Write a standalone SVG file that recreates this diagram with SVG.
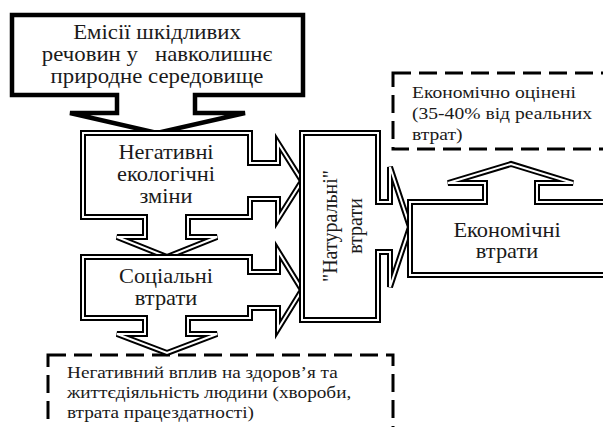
<svg xmlns="http://www.w3.org/2000/svg" xmlns:xlink="http://www.w3.org/1999/xlink" width="603" height="427" viewBox="0 0 603 427">
<style>
.bg{fill:#fff}
.thick{fill:#fff;stroke:#000;stroke-width:4.5;stroke-linejoin:miter}
.triA{fill:#fff;stroke:#000;stroke-width:6;stroke-linejoin:miter}
.triB{fill:none;stroke:#fff;stroke-width:2;stroke-linejoin:miter}
.dash{fill:#fff;stroke:#000;stroke-width:3;stroke-dasharray:18 8}
text{font-family:'Liberation Serif','Times New Roman',serif;fill:#1a1a1a}
.tm{font-size:20px;text-anchor:middle}
.ts{font-size:17.5px}
</style>
<defs>
<path id="pNeg" d="M83,133 H250 V163 H278 V143 L302,181 L278,219 V199 H250 V217 H188 V237 H217 L167,257 L117,237 H145 V217 H83 Z"/>
<path id="pSoc" d="M83,257 H250 V272 H278 V251 L302,290 L278,329 V308 H250 V318 H188 V334 H217 L167,353 L117,334 H145 V318 H83 Z"/>
<path id="pNat" d="M302,133 H378 V202 H390 V167 L410,227 L390,287 V252 H378 V320 H302 Z"/>
<path id="pEco" d="M410,202 H485 V183 H448 L511,164 L573,183 H537 V202 H615 V275 H410 Z"/>
</defs>
<rect class="bg" x="0" y="0" width="603" height="427"/>
<g id="connectors"></g>
<g id="node-economic-estimated">
<rect class="dash" x="393" y="73" width="230" height="76"/>
<g transform="translate(412,0) scale(1.12,1)">
<text class="ts" x="0" y="98">Економічно оцінені</text>
<text class="ts" x="0" y="119">(35-40% від реальних</text>
<text class="ts" x="0" y="140">втрат)</text>
</g>
</g>
<g id="node-health">
<rect class="dash" x="48" y="355" width="345" height="90"/>
<g transform="translate(67,0) scale(1.1,1)">
<text class="ts" x="0" y="378">Негативний вплив на здоров’я та</text>
<text class="ts" x="0" y="398">життєдіяльність людини (хвороби,</text>
<text class="ts" x="0" y="418">втрата працездатності)</text>
</g>
</g>
<g id="node-emissions">
<path class="thick" d="M12,15 H303 V95 H195 V113 H245 L157,133 L70,113 H117 V95 H12 Z"/>
<g transform="translate(157,0) scale(1.14,1)">
<text class="tm" x="0" y="39">Емісії шкідливих</text>
<text class="tm" x="0" y="61">речовин у&#160;&#160; навколишнє</text>
<text class="tm" x="0" y="83">природне середовище</text>
</g>
</g>
<g id="node-ecological">
<use href="#pNeg" xlink:href="#pNeg" class="triA"/>
<use href="#pNeg" xlink:href="#pNeg" class="triB"/>
<g transform="translate(166,0) scale(1.12,1)">
<text class="tm" x="0" y="159">Негативні</text>
<text class="tm" x="0" y="181">екологічні</text>
<text class="tm" x="0" y="203">зміни</text>
</g>
</g>
<g id="node-social">
<use href="#pSoc" xlink:href="#pSoc" class="triA"/>
<use href="#pSoc" xlink:href="#pSoc" class="triB"/>
<g transform="translate(166,0) scale(1.12,1)">
<text class="tm" x="0" y="283">Соціальні</text>
<text class="tm" x="0" y="305">втрати</text>
</g>
</g>
<g id="node-natural">
<use href="#pNat" xlink:href="#pNat" class="triA"/>
<use href="#pNat" xlink:href="#pNat" class="triB"/>
<g transform="translate(0,226) rotate(-90) scale(1,1.1)">
<text class="tm" x="0" y="306">"Натуральні"</text>
<text class="tm" x="0" y="329">втрати</text>
</g>
</g>
<g id="node-economic">
<use href="#pEco" xlink:href="#pEco" class="triA"/>
<use href="#pEco" xlink:href="#pEco" class="triB"/>
<g transform="translate(507,0) scale(1.12,1)">
<text class="tm" x="0" y="237">Економічні</text>
<text class="tm" x="0" y="258">втрати</text>
</g>
</g>
</svg>
